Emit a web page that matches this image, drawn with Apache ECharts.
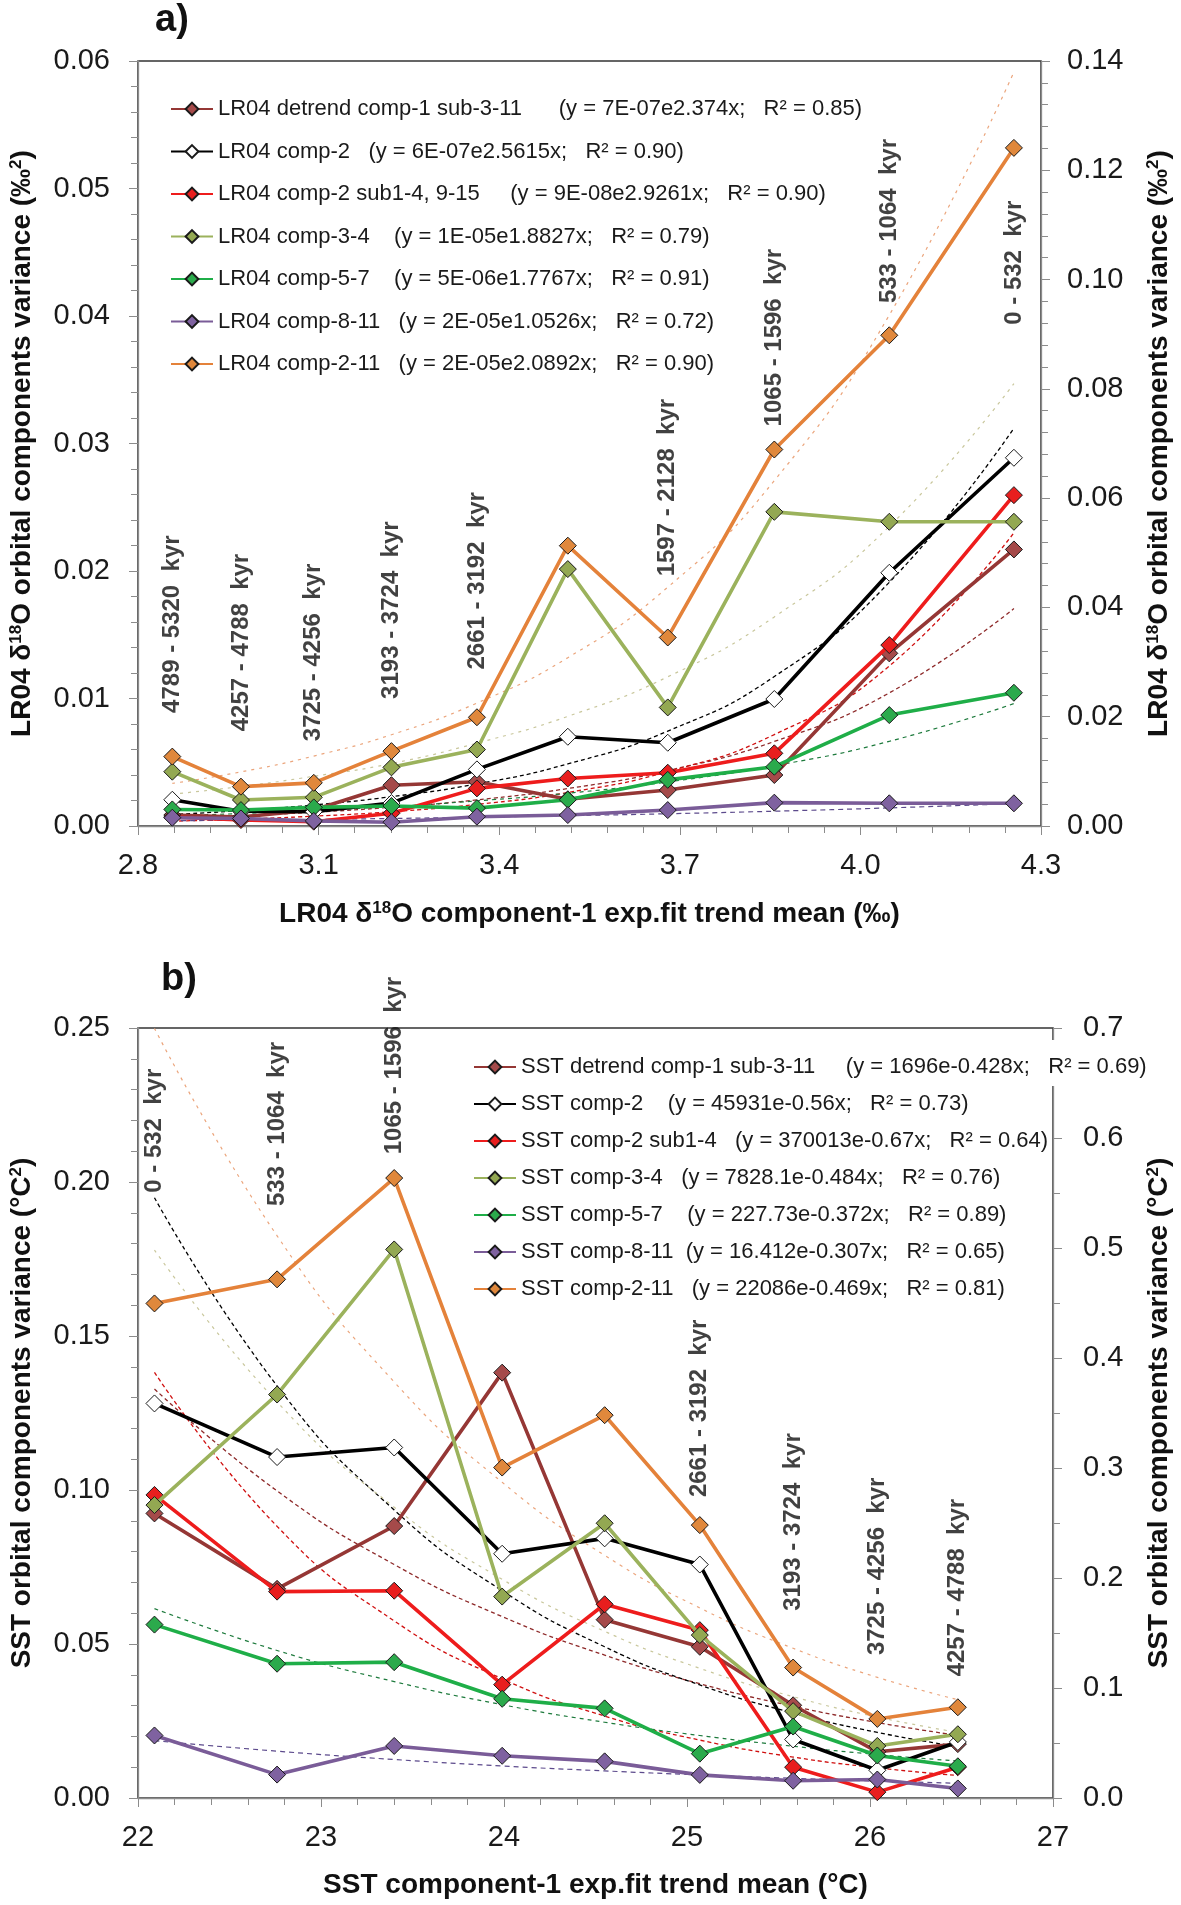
<!DOCTYPE html>
<html>
<head>
<meta charset="utf-8">
<script src="https://cdn.jsdelivr.net/npm/echarts@6/dist/echarts.min.js"></script>
<style>
html,body{margin:0;padding:0;background:#fff;}
#chart{width:1181px;height:1905px;}
</style>
</head>
<body>
<div id="chart"></div>
<script>
// ---------------- Panel a (LR04) data ----------------
const xA = [2.857, 2.971, 3.092, 3.221, 3.363, 3.514, 3.680, 3.857, 4.048, 4.255];
const namesA = ['LR04 detrend comp-1 sub-3-11', 'LR04 comp-2', 'LR04 comp-2 sub1-4, 9-15',
  'LR04 comp-3-4', 'LR04 comp-5-7', 'LR04 comp-8-11', 'LR04 comp-2-11'];
const equationsA = ['      (y = 7E-07e2.374x;   R\u00B2 = 0.85)', '   (y = 6E-07e2.5615x;   R\u00B2 = 0.90)',
  '     (y = 9E-08e2.9261x;   R\u00B2 = 0.90)', '    (y = 1E-05e1.8827x;   R\u00B2 = 0.79)',
  '    (y = 5E-06e1.7767x;   R\u00B2 = 0.91)', '   (y = 2E-05e1.0526x;   R\u00B2 = 0.72)',
  '   (y = 2E-05e2.0892x;   R\u00B2 = 0.90)'];
const detrendA = [0.00086, 0.00070, 0.00125, 0.00320, 0.00347, 0.00210, 0.00282, 0.00400, 0.01354, 0.02169];
const comp2A   = [0.00206, 0.00116, 0.00112, 0.00180, 0.00444, 0.00700, 0.00653, 0.00996, 0.01986, 0.02888];
const comp2subA= [0.00070, 0.00047, 0.00034, 0.00100, 0.00295, 0.00373, 0.00418, 0.00570, 0.01419, 0.02595];
const comp34A  = [0.00426, 0.00204, 0.00225, 0.00460, 0.00600, 0.02015, 0.00930, 0.02464, 0.02386, 0.02386];
const comp57A  = [0.00130, 0.00125, 0.00146, 0.00157, 0.00140, 0.00206, 0.00362, 0.00465, 0.00870, 0.01045];
const comp811A = [0.00065, 0.00059, 0.00040, 0.00030, 0.00073, 0.00086, 0.00125, 0.00183, 0.00178, 0.00178];
const comp211A = [0.0127, 0.0072, 0.0079, 0.0137, 0.0199, 0.0513, 0.0345, 0.0689, 0.0898, 0.1241]; // right axis
// exponential trend lines
const fitDetrendA = [0.00062, 0.00081, 0.00108, 0.00147, 0.00205, 0.00294, 0.00435, 0.00663, 0.01044, 0.01705];
const fitComp2A   = [0.00090, 0.00121, 0.00165, 0.00230, 0.00330, 0.00487, 0.00744, 0.01172, 0.01911, 0.03120];
const fitComp2subA= [0.00038, 0.00054, 0.00077, 0.00112, 0.00169, 0.00263, 0.00427, 0.00717, 0.01255, 0.02300];
const fitComp34A  = [0.00250, 0.00310, 0.00390, 0.00490, 0.00650, 0.00860, 0.01170, 0.01640, 0.02350, 0.03470];
const fitComp57A  = [0.00080, 0.00098, 0.00122, 0.00153, 0.00197, 0.00257, 0.00346, 0.00473, 0.00664, 0.00960];
const fitComp811A = [0.00041, 0.00046, 0.00052, 0.00059, 0.00069, 0.00081, 0.00096, 0.00116, 0.00142, 0.00176];
const fitComp211A = [0.0078, 0.0099, 0.0128, 0.0167, 0.0225, 0.0308, 0.0437, 0.0632, 0.0935, 0.1380]; // right axis
const kyrLabelsA = ['4789 - 5320  kyr', '4257 - 4788  kyr', '3725 - 4256  kyr', '3193 - 3724  kyr',
  '2661 - 3192  kyr', '', '1597 - 2128  kyr', '1065 - 1596  kyr', '533 - 1064  kyr', '0 - 532  kyr'];
const kyrBaseA = [0.00887, 0.00743, 0.00665, 0.00997, 0.01227, null, 0.01958, 0.03134, 0.04101, 0.03931];
const xTicksA = { min: 2.8, max: 4.3, step: 0.3 };
const yLeftA = { min: 0, max: 0.06, step: 0.01 };
const yRightA = { min: 0, max: 0.14, step: 0.02 };

// ---------------- Panel b (SST) data ----------------
const xB = [22.09, 22.76, 23.40, 23.99, 24.55, 25.07, 25.58, 26.04, 26.48];
const namesB = ['SST detrend comp-1 sub-3-11', 'SST comp-2', 'SST comp-2 sub1-4',
  'SST comp-3-4', 'SST comp-5-7', 'SST comp-8-11', 'SST comp-2-11'];
const equationsB = ['     (y = 1696e-0.428x;   R\u00B2 = 0.69)', '    (y = 45931e-0.56x;   R\u00B2 = 0.73)',
  '   (y = 370013e-0.67x;   R\u00B2 = 0.64)', '   (y = 7828.1e-0.484x;   R\u00B2 = 0.76)',
  '    (y = 227.73e-0.372x;   R\u00B2 = 0.89)', '  (y = 16.412e-0.307x;   R\u00B2 = 0.65)',
  '   (y = 22086e-0.469x;   R\u00B2 = 0.81)'];
const detrendB = [0.0924, 0.0679, 0.0883, 0.1381, 0.0579, 0.0491, 0.0301, 0.0150, 0.0175];
const comp2B   = [0.1281, 0.1107, 0.1138, 0.0793, 0.0843, 0.0758, 0.0190, 0.0090, 0.0182];
const comp2subB= [0.0984, 0.0670, 0.0673, 0.0368, 0.0629, 0.0545, 0.0100, 0.0019, 0.0100];
const comp34B  = [0.0951, 0.1310, 0.1781, 0.0654, 0.0892, 0.0529, 0.0282, 0.0169, 0.0207];
const comp57B  = [0.0563, 0.0436, 0.0441, 0.0322, 0.0291, 0.0144, 0.0232, 0.0138, 0.0103];
const comp811B = [0.0203, 0.0076, 0.0169, 0.0137, 0.0119, 0.0075, 0.0056, 0.0060, 0.0031];
const comp211B = [0.4496, 0.4715, 0.5636, 0.3004, 0.3480, 0.2481, 0.1186, 0.0719, 0.0825]; // right axis
const fitDetrendB = [0.1328, 0.0997, 0.0758, 0.0589, 0.0464, 0.0371, 0.0298, 0.0245, 0.0203];
const fitComp2B   = [0.1949, 0.1338, 0.0935, 0.0673, 0.0491, 0.0367, 0.0276, 0.0213, 0.0167];
const fitComp2subB= [0.1382, 0.0882, 0.0575, 0.0387, 0.0266, 0.0188, 0.0133, 0.0098, 0.0073];
const fitComp34B  = [0.1779, 0.1286, 0.0944, 0.0710, 0.0541, 0.0421, 0.0329, 0.0263, 0.0213];
const fitComp57B  = [0.0615, 0.0479, 0.0378, 0.0303, 0.0246, 0.0203, 0.0168, 0.0141, 0.0120];
const fitComp811B = [0.0186, 0.0152, 0.0125, 0.0104, 0.0088, 0.0075, 0.0064, 0.0055, 0.0048];
const fitComp211B = [0.6996, 0.5111, 0.3782, 0.2870, 0.2206, 0.1728, 0.1361, 0.1097, 0.0893]; // right axis
const kyrLabelsB = ['0 - 532  kyr', '533 - 1064  kyr', '1065 - 1596  kyr', '', '',
  '2661 - 3192  kyr', '3193 - 3724  kyr', '3725 - 4256  kyr', '4257 - 4788  kyr'];
const kyrBaseB = [0.1965, 0.1922, 0.2090, null, null, 0.0977, 0.0608, 0.0464, 0.0395];
const xTicksB = { min: 22, max: 27, step: 1 };
const yLeftB = { min: 0, max: 0.25, step: 0.05 };
const yRightB = { min: 0, max: 0.7, step: 0.1 };

// ---------------- styles ----------------
const FONT = 'Liberation Sans';
const lineColors   = ['#953735', '#000000', '#EE1C1C', '#9BB25C', '#1FAE48', '#7A5C98', '#E4823A'];
const markerColors = ['#A54A4A', '#FFFFFF', '#E81E1E', '#93A852', '#2BAA4C', '#7F62A0', '#E0883C'];
const fitColors    = ['#8E2A2A', '#000000', '#D01010', '#C9C79C', '#1D7A3C', '#5C4A8C', '#EBA57C'];
const fitDash      = [[4,3],[4,3],[4,3],[3,5],[4,4],[5,4],[3,5]];
const fitWidth     = [1.3, 1.3, 1.3, 1.2, 1.2, 1.2, 1.2];
const TICK_FONT = 29;
const NAME_FONT = 28;

const dataA = [detrendA, comp2A, comp2subA, comp34A, comp57A, comp811A, comp211A];
const fitsA = [fitDetrendA, fitComp2A, fitComp2subA, fitComp34A, fitComp57A, fitComp811A, fitComp211A];
const dataB = [detrendB, comp2B, comp2subB, comp34B, comp57B, comp811B, comp211B];
const fitsB = [fitDetrendB, fitComp2B, fitComp2subB, fitComp34B, fitComp57B, fitComp811B, fitComp211B];

const pair = (xs, ys) => xs.map((x, i) => [x, ys[i]]);

function valueAxis(base, range, gridIndex, decimals, minorSplit, margin) {
  return Object.assign({
    type: 'value', gridIndex: gridIndex,
    min: range.min, max: range.max, interval: range.step,
    axisLine: { show: true, onZero: false, lineStyle: { color: '#8c8c8c', width: 1.3 } },
    axisTick: { show: true, length: 9, lineStyle: { color: '#8c8c8c' } },
    minorTick: { show: true, splitNumber: minorSplit, length: 7, lineStyle: { color: '#8c8c8c' } },
    splitLine: { show: false },
    axisLabel: { fontFamily: FONT, fontSize: TICK_FONT, color: '#1a1a1a', margin: margin,
      formatter: v => Number(v).toFixed(decimals) },
    nameLocation: 'middle',
    nameTextStyle: { fontFamily: FONT, fontSize: NAME_FONT, fontWeight: 'bold', color: '#111',
      rich: {
        s: { fontFamily: FONT, fontSize: 17, fontWeight: 'bold', color: '#111', verticalAlign: 'top', lineHeight: 16 }
      } }
  }, base);
}

const xAxis = [
  valueAxis({ name: 'LR04 \u03B4{s|18}O component-1 exp.fit trend mean (\u2030)', nameGap: 74 }, xTicksA, 0, 1, 5, 25),
  valueAxis({ name: 'SST component-1 exp.fit trend mean (\u00B0C)', nameGap: 73 }, xTicksB, 1, 0, 5, 25)
];
const yAxis = [
  valueAxis({ position: 'left', nameRotate: 90, nameGap: 102,
    name: 'LR04 \u03B4{s|18}O orbital components variance (\u2030{s|2})' }, yLeftA, 0, 2, 5, 28),
  valueAxis({ position: 'right', nameRotate: 90, nameGap: 104,
    name: 'LR04 \u03B4{s|18}O orbital components variance (\u2030{s|2})' }, yRightA, 0, 2, 5, 26),
  valueAxis({ position: 'left', nameRotate: 90, nameGap: 102,
    name: 'SST orbital components variance (\u00B0C{s|2})' }, yLeftB, 1, 2, 5, 28),
  valueAxis({ position: 'right', nameRotate: 90, nameGap: 92,
    name: 'SST orbital components variance (\u00B0C{s|2})' }, yRightB, 1, 1, 2, 30)
];

const series = [];
function addPanel(xs, data, fits, names, xIdx, yLeft, yRight, kyrLabels, kyrBase) {
  fits.forEach((f, i) => {
    series.push({
      name: 'fit ' + names[i], type: 'line', xAxisIndex: xIdx, yAxisIndex: i === 6 ? yRight : yLeft,
      data: pair(xs, f), smooth: true, symbol: 'none', silent: true, z: 1,
      lineStyle: { color: fitColors[i], width: fitWidth[i], type: fitDash[i] }
    });
  });
  data.forEach((d, i) => {
    series.push({
      name: names[i], type: 'line', xAxisIndex: xIdx, yAxisIndex: i === 6 ? yRight : yLeft,
      data: pair(xs, d), symbol: 'diamond', symbolSize: 17, z: 2 + i * 0.01,
      lineStyle: { color: lineColors[i], width: 3.6 },
      itemStyle: { color: markerColors[i], borderColor: '#1a1a1a', borderWidth: 1 },
      emphasis: { disabled: true }
    });
  });
  const lab = [];
  xs.forEach((x, i) => { if (kyrLabels[i]) lab.push([x, kyrBase[i], kyrLabels[i]]); });
  series.push({
    name: 'labels', type: 'scatter', xAxisIndex: xIdx, yAxisIndex: yLeft, symbolSize: 0, z: 5,
    data: lab, silent: true,
    label: { show: true, position: 'inside', rotate: 90, align: 'left', verticalAlign: 'middle',
      formatter: p => p.data[2], fontFamily: FONT, fontSize: 24, fontWeight: 'bold', color: '#111' }
  });
}
addPanel(xA, dataA, fitsA, namesA, 0, 0, 1, kyrLabelsA, kyrBaseA);
addPanel(xB, dataB, fitsB, namesB, 1, 2, 3, kyrLabelsB, kyrBaseB);

function legend(names, eqs, left, top, gap) {
  return {
    data: names, orient: 'vertical', left: left, top: top, itemWidth: 42, itemHeight: 16,
    itemGap: gap, padding: 0, selectedMode: false,
    formatter: n => n + eqs[names.indexOf(n)],
    textStyle: { fontFamily: FONT, fontSize: 22, color: '#1a1a1a', lineHeight: 22 }
  };
}

const option = {
  animation: false,
  backgroundColor: '#ffffff',
  title: [
    { text: 'a)', left: 155, top: 2, padding: 0, textStyle: { fontFamily: FONT, fontSize: 38, fontWeight: 'bold', color: '#111' } },
    { text: 'b)', left: 161, top: 961, padding: 0, textStyle: { fontFamily: FONT, fontSize: 38, fontWeight: 'bold', color: '#111' } }
  ],
  grid: [
    { left: 134, top: 61, width: 908, height: 765, show: true, borderColor: '#333', borderWidth: 1.5, containLabel: false },
    { left: 134, top: 1028, width: 920, height: 770, show: true, borderColor: '#333', borderWidth: 1.5, containLabel: false }
  ],
  legend: [
    legend(namesA, equationsA, 170, 98, 20.5),
    legend(namesB, equationsB, 473, 1056, 15)
  ],
  graphic: [
    { type: 'rect', z: 3, shape: { x: 1046, y: 1040, width: 110, height: 46 }, style: { fill: '#ffffff' }, silent: true }
  ],
  xAxis: xAxis,
  yAxis: yAxis,
  series: series
};

const chart = echarts.init(document.getElementById('chart'), null, { renderer: 'canvas' });
chart.setOption(option);
</script>
</body>
</html>
